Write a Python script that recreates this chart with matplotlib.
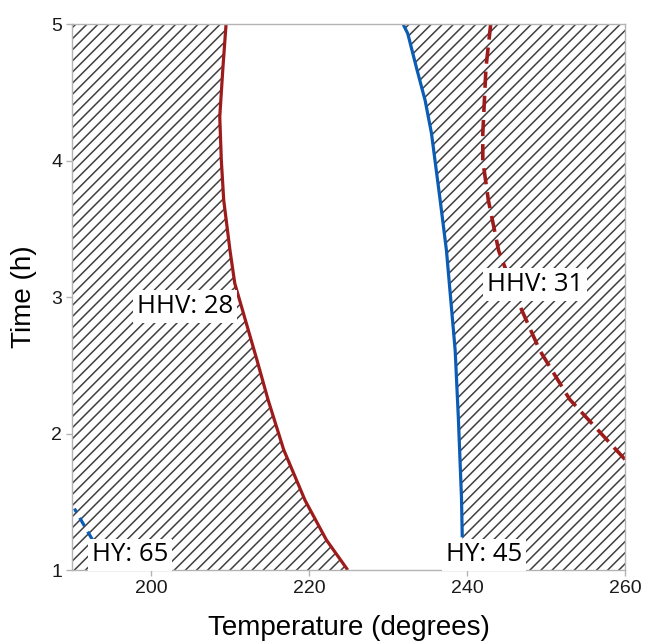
import matplotlib
matplotlib.use("Agg")
from matplotlib import pyplot as plt
from matplotlib.patches import Rectangle
import numpy as np

# contour lines: time (h) and temperature (degrees)
hhv28_t = [1.00, 1.22, 1.51, 1.88, 2.25, 2.54, 2.90, 3.10, 3.34, 3.71, 4.00, 4.32, 4.68, 5.00]
hhv28_T = [224.9, 222.2, 219.5, 216.8, 214.8, 213.4, 211.6, 210.6, 210.0, 209.2, 208.9, 208.7, 209.1, 209.5]

hy45_t = [1.00, 1.24, 1.53, 2.12, 2.61, 3.34, 3.71, 4.20, 4.44, 4.68, 4.93, 5.00]
hy45_T = [239.4, 239.4, 239.3, 238.9, 238.5, 237.4, 236.6, 235.5, 234.7, 233.6, 232.5, 231.9]

hhv31_t = [1.81, 2.25, 2.61, 2.96, 3.34, 3.71, 4.00, 4.20, 4.68, 5.00]
hhv31_T = [260.0, 253.0, 249.2, 246.5, 244.0, 242.7, 242.0, 242.0, 242.4, 243.0]

hy65_t = [1.22, 1.45]
hy65_T = [192.6, 190.3]

labels = ["HHV: 28", "HHV: 31", "HY: 65", "HY: 45"]
label_T = [204.3, 248.6, 197.3, 242.2]
label_t = [2.93, 3.09, 1.11, 1.11]

x_ticks = [200, 220, 240, 260]
y_ticks = [1, 2, 3, 4, 5]

RED = "#9e1b1b"
BLUE = "#0b5cb5"
GRAY = "#b4b4b4"

plt.rcParams["hatch.linewidth"] = 1.1
plt.rcParams["font.family"] = ["Liberation Sans", "DejaVu Sans"]

fig = plt.figure(figsize=(6.46, 6.44), dpi=100)
ax = fig.add_axes([0.1115, 0.1149, 0.856, 0.8478])
ax.set_xlim(190, 260)
ax.set_ylim(1, 5)

# hatched background, white band between the two solid contours
ax.add_patch(Rectangle((0, 0), 1, 1, transform=ax.transAxes, facecolor="white",
                       edgecolor="#404040", linewidth=0, hatch="///", zorder=0))
band_x = hhv28_T + hy45_T[::-1]
band_y = hhv28_t + hy45_t[::-1]
ax.fill(band_x, band_y, color="white", linewidth=0, zorder=1)

ax.plot(hhv28_T, hhv28_t, color=RED, lw=2.3, zorder=3, solid_capstyle="butt")
ax.plot(hy45_T[1:], hy45_t[1:], color=BLUE, lw=2.3, zorder=3, solid_capstyle="butt")
ax.plot(hhv31_T, hhv31_t, color=RED, lw=2.6, ls=(0, (4.5, 2.2)), zorder=3)
ax.plot(hy65_T, hy65_t, color=BLUE, lw=2.3, ls=(0, (3, 2)), zorder=3)

for txt, tx, ty in zip(labels, label_T, label_t):
    ax.text(tx, ty, txt, ha="center", va="center", fontsize=18.5,
            family=["Open Sans", "DejaVu Sans"], color="black", zorder=6, clip_on=False,
            bbox=dict(facecolor="white", edgecolor="none", boxstyle="square,pad=0.15"))

for s in ax.spines.values():
    s.set_color(GRAY)
    s.set_linewidth(1.0)
    s.set_zorder(4)

ax.set_xticks(x_ticks)
ax.set_yticks(y_ticks)
ax.tick_params(length=4, width=1, color=GRAY, labelcolor="#1a1a1a", labelsize=14, pad=3)
ax.set_xlabel("Temperature (degrees)", fontsize=20, labelpad=13)
ax.set_ylabel("Time (h)", fontsize=20, labelpad=10)

fig.savefig("out.png", dpi=100)
